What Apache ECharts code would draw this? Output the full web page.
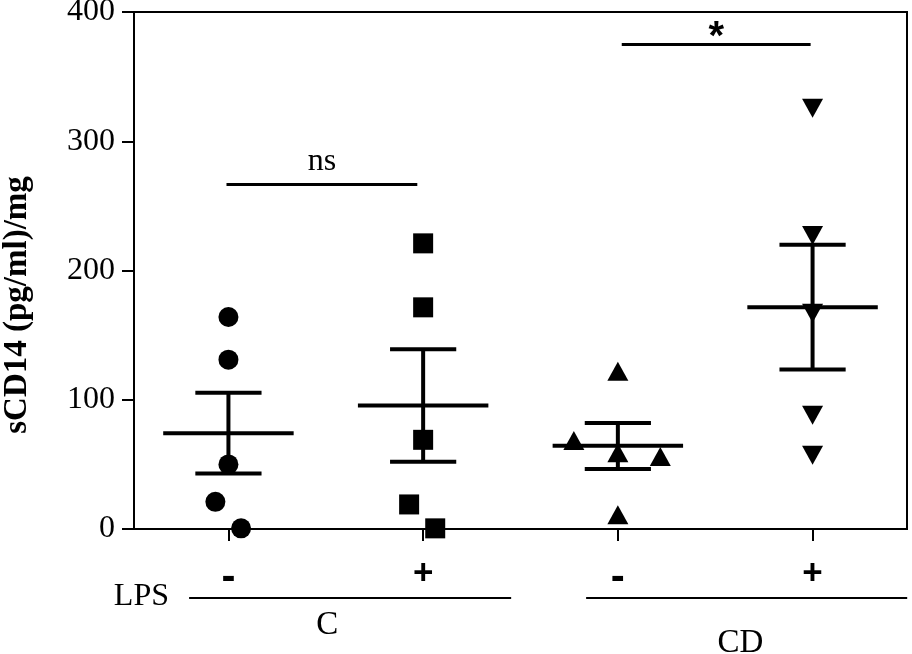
<!DOCTYPE html>
<html>
<head>
<meta charset="utf-8">
<script src="https://cdn.jsdelivr.net/npm/echarts@6/dist/echarts.min.js"></script>
<style>
  html, body { margin: 0; padding: 0; background: #fff; }
  #chart { width: 912px; height: 654px; }
</style>
</head>
<body>
<div id="chart"></div>
<script>
// groups along the x axis
const groupNames = ['C', 'CD'];
const lpsLabels = ['-', '+', '-', '+'];
const yTicks = [0, 100, 200, 300, 400];

// individual values and their horizontal jitter
const cMinus = [164, 131, 50, 21, 0.5];
const cMinusJitter = [0, 0, 0, -0.067, 0.065];
const cPlus = [221, 171.5, 69, 19, 0.5];
const cPlusJitter = [0, 0, 0, -0.072, 0.062];
const cdMinus = [122, 68.5, 59, 56, 11];
const cdMinusJitter = [0, -0.226, 0, 0.218, 0];
const cdPlus = [325.5, 227, 167, 88, 57];
const cdPlusJitter = [0, 0, 0, 0, 0];

// mean and SEM bars
const meanVals = [74, 95.5, 64.5, 171.5];
const semLow = [43, 52, 46.5, 123.5];
const semHigh = [105.5, 139, 82, 220];

// significance brackets
const sigLabels = ['ns', '*'];
const sigY = [267, 375];
const sigFrom = [-0.01, 2.02];
const sigTo = [0.97, 2.99];

const serif = '"Liberation Serif", "Times New Roman", serif';
const sans = '"Liberation Sans", Arial, sans-serif';

function points(vals, jitter, g) {
    return vals.map((v, i) => [g + jitter[i], v]);
}

const chart = echarts.init(document.getElementById('chart'));

const markerSeries = [
    {data: points(cMinus, cMinusJitter, 0), symbol: 'circle', symbolSize: 20, symbolRotate: 0},
    {data: points(cPlus, cPlusJitter, 1), symbol: 'rect', symbolSize: 20, symbolRotate: 0},
    {data: points(cdMinus, cdMinusJitter, 2), symbol: 'triangle', symbolSize: [21, 19], symbolRotate: 0},
    {data: points(cdPlus, cdPlusJitter, 3), symbol: 'triangle', symbolSize: [21, 19], symbolRotate: 180}
].map(s => Object.assign({
    type: 'scatter',
    z: 5,
    itemStyle: {color: '#000', opacity: 1},
    emphasis: {disabled: true}
}, s));

const option = {
    animation: false,
    backgroundColor: '#fff',
    grid: {
        left: 134, right: 5, top: 12, bottom: 125,
        show: true, borderColor: '#000', borderWidth: 2,
        containLabel: false, outerBoundsMode: 'none'
    },
    xAxis: {
        type: 'value',
        min: -0.485,
        max: 3.485,
        splitLine: {show: false},
        axisLine: {show: true, onZero: false, lineStyle: {color: '#000', width: 2}},
        axisTick: {
            show: true, customValues: [0, 1, 2, 3], length: 12,
            lineStyle: {color: '#000', width: 2}
        },
        axisLabel: {
            customValues: [0, 1, 2, 3],
            margin: 28,
            formatter: v => lpsLabels[Math.round(v)] === '+' ? '{p|+}' : '{m|-}',
            rich: {
                p: {fontFamily: sans, fontWeight: 'bold', fontSize: 35, color: '#000'},
                m: {fontFamily: sans, fontWeight: 'bold', fontSize: 42, color: '#000'}
            }
        }
    },
    yAxis: {
        type: 'value',
        min: yTicks[0],
        max: yTicks[yTicks.length - 1],
        interval: 100,
        splitLine: {show: false},
        axisLine: {show: true, onZero: false, lineStyle: {color: '#000', width: 2}},
        axisTick: {show: true, length: 12, lineStyle: {color: '#000', width: 2}},
        axisLabel: {
            margin: 19,
            color: '#000',
            fontFamily: serif,
            fontSize: 32
        }
    },
    series: [
        {
            type: 'custom',
            z: 3,
            silent: true,
            data: meanVals.map((m, i) => [i, m, semLow[i], semHigh[i]]),
            renderItem: function (params, api) {
                const x = api.value(0);
                const pm = api.coord([x, api.value(1)]);
                const pl = api.coord([x, api.value(2)]);
                const ph = api.coord([x, api.value(3)]);
                const unit = api.size([1, 0])[0];
                const mw = unit * 0.335;
                const cw = unit * 0.17;
                const style = {stroke: '#000', lineWidth: 4};
                return {
                    type: 'group',
                    children: [
                        {type: 'line', shape: {x1: pl[0], y1: pl[1], x2: ph[0], y2: ph[1]}, style: style},
                        {type: 'line', shape: {x1: pm[0] - mw, y1: pm[1], x2: pm[0] + mw, y2: pm[1]}, style: style},
                        {type: 'line', shape: {x1: ph[0] - cw, y1: ph[1], x2: ph[0] + cw, y2: ph[1]}, style: style},
                        {type: 'line', shape: {x1: pl[0] - cw, y1: pl[1], x2: pl[0] + cw, y2: pl[1]}, style: style}
                    ]
                };
            },
            markLine: {
                silent: true,
                symbol: 'none',
                animation: false,
                lineStyle: {color: '#000', width: 3, type: 'solid'},
                emphasis: {disabled: true},
                data: sigLabels.map((lab, i) => [
                    {
                        coord: [sigFrom[i], sigY[i]],
                        label: {
                            show: true,
                            position: 'middle',
                            formatter: lab,
                            color: '#000',
                            distance: lab === '*' ? -14 : 6,
                            fontFamily: lab === '*' ? sans : serif,
                            fontWeight: lab === '*' ? 'bold' : 'normal',
                            fontSize: lab === '*' ? 40 : 32
                        }
                    },
                    {coord: [sigTo[i], sigY[i]]}
                ])
            }
        }
    ].concat(markerSeries)
};

chart.setOption(option);

// labels and group lines under the x axis
function px(v) {
    return chart.convertToPixel({xAxisIndex: 0}, v);
}
const lineY = 598;
const lineStyle = {stroke: '#000', lineWidth: 2};
chart.setOption({
    graphic: [
        {
            type: 'text', x: 17, y: 305, rotation: Math.PI / 2,
            style: {
                text: 'sCD14 (pg/ml)/mg', fill: '#000',
                font: 'bold 33px ' + serif, align: 'center', verticalAlign: 'middle'
            }
        },
        {
            type: 'text', x: 169, y: 597,
            style: {text: 'LPS', fill: '#000', font: '32px ' + serif, align: 'right', verticalAlign: 'middle'}
        },
        {type: 'line', shape: {x1: px(-0.202), y1: lineY, x2: px(1.452), y2: lineY}, style: lineStyle},
        {type: 'line', shape: {x1: px(1.837), y1: lineY, x2: px(3.486), y2: lineY}, style: lineStyle},
        {
            type: 'text', x: px(0.507), y: 625,
            style: {text: groupNames[0], fill: '#000', font: '33px ' + serif, align: 'center', verticalAlign: 'middle'}
        },
        {
            type: 'text', x: px(2.63), y: 643,
            style: {text: groupNames[1], fill: '#000', font: '33px ' + serif, align: 'center', verticalAlign: 'middle'}
        }
    ]
});
</script>
</body>
</html>
